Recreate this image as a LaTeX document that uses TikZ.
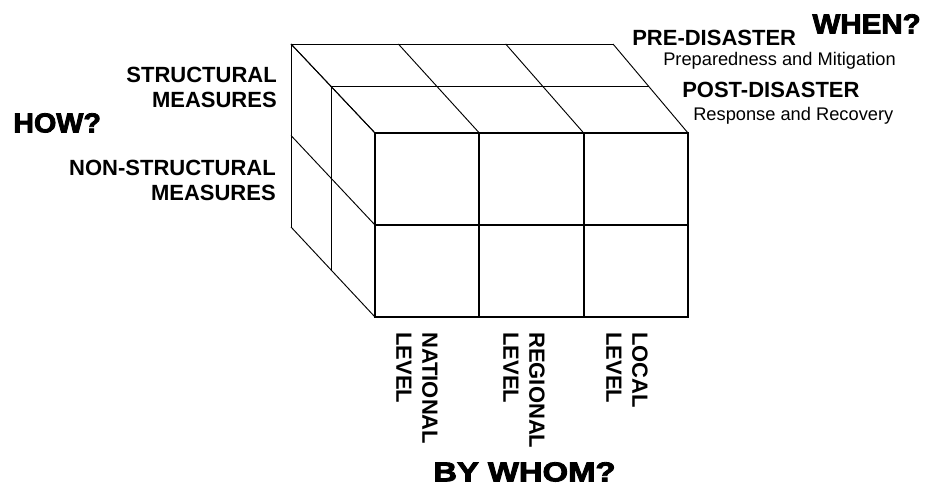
\documentclass[tikz,border=0pt]{standalone}
\usepackage{fontspec}
\setmainfont{Liberation Sans}
\newfontfamily\headfont{Liberation Sans Bold}[FakeBold=3]
\usetikzlibrary{calc,positioning}

\begin{document}
\begin{tikzpicture}[
x=0.75pt,y=-0.75pt,
face/.style={line width=0.7pt},
front/.style={line width=1.4pt},
lbl/.style={inner sep=0,font=\bfseries\fontsize{16.5}{18.75}\selectfont},
sub/.style={inner sep=0,font=\fontsize{13.7}{16}\selectfont},
head/.style={inner sep=0,font=\headfont\fontsize{20.5}{24}\selectfont},
level/.style={lbl,rotate=-90,anchor=north west,align=left,font=\bfseries\fontsize{16.5}{19.5}\selectfont}]
\useasboundingbox (0,0) rectangle (925,486);
\coordinate (btl) at (291,44);
\coordinate (btr) at (613,44);
\coordinate (bbl) at (291,227);
\coordinate (ftl) at (375,133);
\coordinate (ftr) at (688,133);
\coordinate (fbl) at (375,317);
\coordinate (fbr) at (688,317);
\foreach \v in {0,0.48} {
  \draw[face] ($(btl)!\v!(ftl)$) -- ($(btr)!\v!(ftr)$);
  \draw[face] ($(btl)!\v!(ftl)$) -- ($(bbl)!\v!(fbl)$);
}
\foreach \u in {0,0.3333,0.6667,1}
  \draw[face] ($(btl)!\u!(btr)$) -- ($(ftl)!\u!(ftr)$);
\foreach \w in {0,0.5,1}
  \draw[face] ($(btl)!\w!(bbl)$) -- ($(ftl)!\w!(fbl)$);
\draw[front] (ftl) rectangle (fbr);
\draw[front] ($(ftl)!0.5!(fbl)$) -- ($(ftr)!0.5!(fbr)$);
\foreach \u in {0.3333,0.6667}
  \draw[front] ($(ftl)!\u!(ftr)$) -- ($(fbl)!\u!(fbr)$);
\node[lbl,align=right,anchor=north east] (struct) at (277,67) {STRUCTURAL\\MEASURES};
\node[lbl,align=right,anchor=north east] (nonstruct) at (276,160) {NON-STRUCTURAL\\MEASURES};
\node[head,anchor=north west,xscale=1.05] (how) at (13,113) {HOW?};
\node[head,anchor=north east,xscale=1.08] (when) at (921,14) {WHEN?};
\node[lbl,anchor=north west] (pre) at (632,30) {PRE-DISASTER};
\node[sub,anchor=north west] (prep) at (663,52) {Preparedness and Mitigation};
\node[lbl,anchor=north west] (post) at (682,82) {POST-DISASTER};
\node[sub,anchor=north west] (resp) at (693,107) {Response and Recovery};
\node[level] (national) at (438,332) {NATIONAL\\LEVEL};
\node[level] (regional) at (545,332) {REGIONAL\\LEVEL};
\node[level] (local) at (648,332) {LOCAL\\LEVEL};
\node[head,anchor=north west,xscale=1.2] (whom) at (433,462) {BY WHOM?};
\end{tikzpicture}
\end{document}
